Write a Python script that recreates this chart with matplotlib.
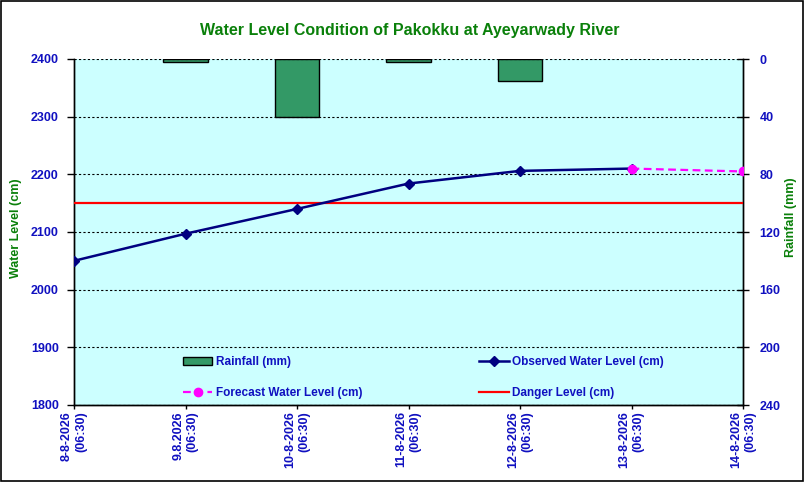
import matplotlib
matplotlib.use("Agg")
import matplotlib.pyplot as plt
from matplotlib.patches import Rectangle
import numpy as np

dates = ["8-8-2026\n(06:30)", "9.8.2026\n(06:30)", "10-8-2026\n(06:30)", "11-8-2026\n(06:30)",
         "12-8-2026\n(06:30)", "13-8-2026\n(06:30)", "14-8-2026\n(06:30)"]
rainfall = [0, 2, 40, 2, 15, 0, 0]
observed = [2050, 2097, 2140, 2184, 2206, 2210, None]
forecast = [None, None, None, None, None, 2210, 2205]
danger = [2150, 2150, 2150, 2150, 2150, 2150, 2150]

blue = "#1010C0"
green = "#0A800A"

fig = plt.figure(figsize=(8.07, 4.87), dpi=100)
fig.patches.append(Rectangle((0.0015, 0.012), 0.9935, 0.985, transform=fig.transFigure,
                             fill=False, edgecolor="black", linewidth=1.2))

ax = fig.add_axes([74/807, 82/487, 669/807, 346/487])
ax2 = ax.twinx()
ax.set_zorder(ax2.get_zorder() + 1)
ax.patch.set_visible(False)
ax2.patch.set_facecolor("#CCFFFF")
ax2.patch.set_visible(True)

x = np.arange(len(dates))

# rainfall bars on right axis (inverted); only non-zero days get a bar
rx = [i for i, v in enumerate(rainfall) if v > 0]
rv = [v for v in rainfall if v > 0]
ax2.bar(rx, rv, width=0.4, color="#339966", edgecolor="black", linewidth=1,
        label="Rainfall (mm)")
ax2.set_ylim(240, 0)
ax2.set_yticks(np.arange(0, 241, 40))

obs_x = [i for i, v in enumerate(observed) if v is not None]
obs_y = [v for v in observed if v is not None]
fc_x = [i for i, v in enumerate(forecast) if v is not None]
fc_y = [v for v in forecast if v is not None]

ax.plot(x, danger, color="#FF0000", linewidth=1.6, label="Danger Level (cm)", zorder=3)
ax.plot(obs_x, obs_y, color="#000080", linewidth=1.8, marker="D", markersize=5,
        label="Observed Water Level (cm)", zorder=4)
ax.plot(fc_x, fc_y, color="#FF00FF", linewidth=1.6, linestyle=(0, (3.5, 2)), marker="o",
        markersize=6, label="Forecast Water Level (cm)", zorder=5)

ax.set_xlim(0, len(dates) - 1)
ax.set_ylim(1800, 2400)
ax.set_yticks(np.arange(1800, 2401, 100))
ax.yaxis.grid(True, color="black", linestyle=(0, (2, 2)), linewidth=0.8)
ax.set_axisbelow(False)

ax.set_xticks(x)
ax.set_xticklabels(dates, rotation=90, ha="center", va="top", multialignment="right")

for a in (ax, ax2):
    a.spines["top"].set_visible(False)
    for s in ("left", "right", "bottom"):
        a.spines[s].set_linewidth(1.0)

ax.tick_params(axis="y", direction="out", length=5, width=1, pad=6,
               labelcolor=blue, labelsize=9)
ax.tick_params(axis="x", direction="out", length=3, width=1, pad=1.5,
               labelcolor=blue, labelsize=9)
ax2.tick_params(axis="y", direction="inout", length=8, width=1, pad=8,
                labelcolor=blue, labelsize=9)
for lab in ax.get_yticklabels() + ax.get_xticklabels() + ax2.get_yticklabels():
    lab.set_fontweight("bold")
    lab.set_fontfamily("Liberation Sans")

ax.set_ylabel("Water Level (cm)", color=green, fontsize=9, fontweight="bold",
              family="Liberation Sans")
ax.yaxis.set_label_coords(-0.077, 0.51)
ax2.set_ylabel("Rainfall (mm)", color=green, fontsize=9, fontweight="bold",
               family="Liberation Sans")
ax2.yaxis.set_label_coords(1.063, 0.543)

fig.text(410/807, 1 - 31/487, "Water Level Condition of Pakokku at Ayeyarwady River",
         color=green, fontsize=11.5, fontweight="bold", family="Liberation Sans",
         ha="center", va="center")

h1, l1 = ax2.get_legend_handles_labels()
h2, l2 = ax.get_legend_handles_labels()
hd = dict(zip(l1 + l2, h1 + h2))
order = ["Rainfall (mm)", "Forecast Water Level (cm)", "Observed Water Level (cm)", "Danger Level (cm)"]
leg = ax.legend([hd[k] for k in order], order, ncol=2, loc="lower left",
                bbox_to_anchor=(103/669, 0.0), frameon=False, borderpad=0,
                handlelength=2.5, handletextpad=0.3, columnspacing=9.9, labelspacing=1.6,
                prop={"family": "Liberation Sans", "weight": "bold", "size": 8.5})
for t in leg.get_texts():
    t.set_color(blue)

fig.savefig("out.png", dpi=100)
